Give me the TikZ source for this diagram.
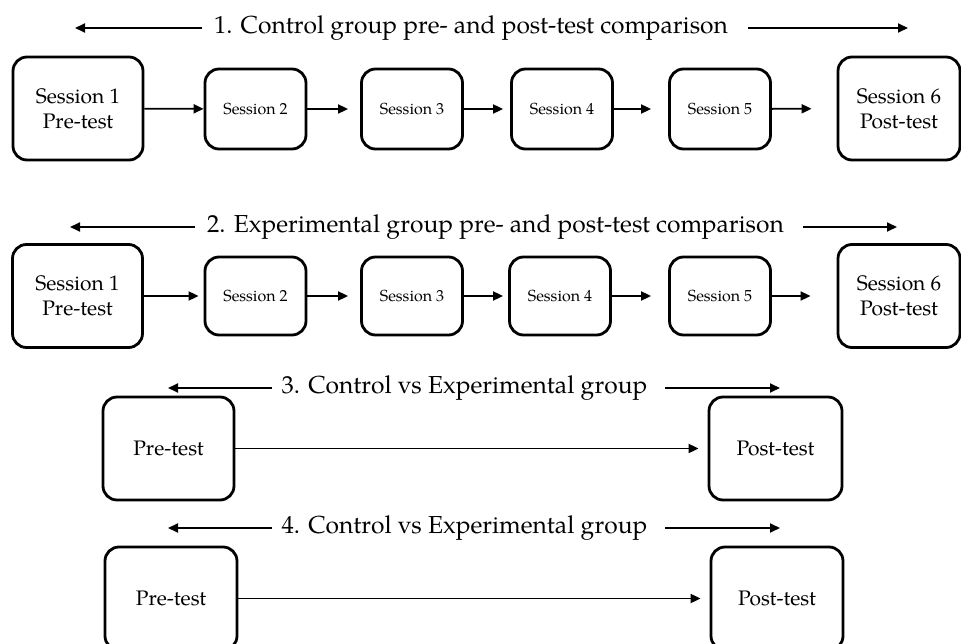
\documentclass[tikz,border=0pt]{standalone}
\usepackage{fontspec}
\setmainfont{TeX Gyre Pagella}
\usetikzlibrary{arrows.meta}
\begin{document}
\begin{tikzpicture}[x=1pt,y=-1pt,
  box/.style={draw, line width=2.8pt, rounded corners=14pt, align=center, inner sep=0pt},
  big/.style={box, minimum width=130pt, minimum height=103pt, font=\fontsize{21}{25}\selectfont},
  small/.style={box, minimum width=101pt, minimum height=80pt, font=\fontsize{16}{19}\selectfont},
  conn/.style={line width=1.8pt, -{Triangle[length=10pt,width=9pt]}},
  ttl/.style={font=\fontsize{24.6}{30}\selectfont, inner sep=0pt},
]
\useasboundingbox (0,0) rectangle (961,644);
\clip (0,0) rectangle (961,644);

% Row 1
\node[ttl] (t1) at (471,28) {1. Control group pre- and post-test comparison};
\coordinate (t1la) at (202,28); \coordinate (t1lb) at (75,28);
\coordinate (t1ra) at (748,28); \coordinate (t1rb) at (908,28);
\draw[conn] (t1la) -- (t1lb);
\draw[conn] (t1ra) -- (t1rb);
\node[big] (a1) at (78,108.5) {Session 1\\Pre-test};
\node[small] (a2) at (255.5,109) {Session 2};
\node[small] (a3) at (412,109) {Session 3};
\node[small] (a4) at (562,109) {Session 4};
\node[small] (a5) at (720,109) {Session 5};
\node[big, minimum width=122pt] (a6) at (899,108.5) {Session 6\\Post-test};
\draw[conn] (a1) -- (a2);
\draw[conn, shorten >=12pt] (a2) -- (a3);
\draw[conn, shorten >=7pt] (a3) -- (a4);
\draw[conn, shorten >=17pt] (a4) -- (a5);
\draw[conn, shorten >=25pt] (a5) -- (a6);

% Row 2
\node[ttl] (t2) at (495.5,227) {2. Experimental group pre- and post-test comparison};
\coordinate (t2la) at (195,227); \coordinate (t2lb) at (70,227);
\coordinate (t2ra) at (803,227); \coordinate (t2rb) at (897,227);
\draw[conn] (t2la) -- (t2lb);
\draw[conn] (t2ra) -- (t2rb);
\node[big] (b1) at (77.5,296) {Session 1\\Pre-test};
\node[small, minimum height=78pt] (b2) at (255.5,296) {Session 2};
\node[small, minimum height=78pt] (b3) at (412,296) {Session 3};
\node[small, minimum height=78pt] (b4) at (560,296) {Session 4};
\node[small, minimum height=78pt] (b5) at (720,296) {Session 5};
\node[big, minimum width=122pt] (b6) at (899,296) {Session 6\\Post-test};
\draw[conn, shorten >=5pt] (b1) -- (b2);
\draw[conn, shorten >=12pt] (b2) -- (b3);
\draw[conn, shorten >=5pt] (b3) -- (b4);
\draw[conn, shorten >=17pt] (b4) -- (b5);
\draw[conn, shorten >=26pt] (b5) -- (b6);

% Row 3
\node[ttl] (t3) at (464.5,388) {3. Control vs Experimental group};
\coordinate (t3la) at (272,388); \coordinate (t3lb) at (168,388);
\coordinate (t3ra) at (665,388); \coordinate (t3rb) at (780,388);
\draw[conn] (t3la) -- (t3lb);
\draw[conn] (t3ra) -- (t3rb);
\node[big, minimum width=131pt] (c1) at (168.5,448.5) {Pre-test};
\node[big, minimum width=133pt] (c2) at (775.5,448.5) {Post-test};
\draw[conn, shorten >=9pt] (c1) -- (c2);

% Row 4
\node[ttl] (t4) at (464.5,528) {4. Control vs Experimental group};
\coordinate (t4la) at (272,528); \coordinate (t4lb) at (168,528);
\coordinate (t4ra) at (665,528); \coordinate (t4rb) at (780,528);
\draw[conn] (t4la) -- (t4lb);
\draw[conn] (t4ra) -- (t4rb);
\node[big, minimum width=132pt] (d1) at (171,598.5) {Pre-test};
\node[big, minimum width=132pt] (d2) at (777,598.5) {Post-test};
\draw[conn, shorten >=9pt] (d1) -- (d2);
\end{tikzpicture}
\end{document}
